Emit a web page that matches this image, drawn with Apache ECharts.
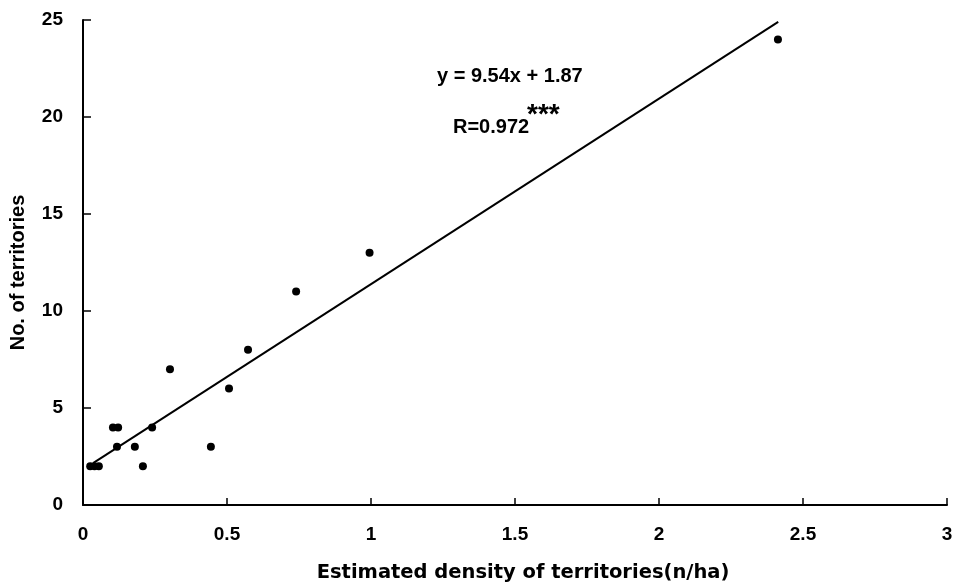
<!DOCTYPE html>
<html>
<head>
<meta charset="utf-8">
<script src="https://cdn.jsdelivr.net/npm/echarts@6/dist/echarts.min.js"></script>
<style>
  html, body { margin: 0; padding: 0; background: #fff; }
  #chart { width: 960px; height: 585px; }
</style>
</head>
<body>
<div id="chart"></div>
<script>
// 观测点：估计密度 (n/ha) 与领地数
var densityX = [0.025, 0.04, 0.055, 0.104, 0.122, 0.118, 0.18, 0.208, 0.24, 0.302, 0.444, 0.507, 0.573, 0.74, 0.995, 2.413];
var territoriesY = [2, 2, 2, 4, 4, 3, 3, 2, 4, 7, 3, 6, 8, 11, 13, 24];

// 回归线两端
var fitX = [0.035, 2.414];
var fitY = [2.16, 24.9];

// 刻度
var xTicks = [0, 0.5, 1, 1.5, 2, 2.5, 3];
var yTicks = [0, 5, 10, 15, 20, 25];

var fontMain = '"Liberation Sans", Arial, sans-serif';
var fontWide = '"DejaVu Sans", sans-serif';

var points = densityX.map(function (x, i) { return [x, territoriesY[i]]; });
var fitLine = fitX.map(function (x, i) { return [x, fitY[i]]; });

var option = {
    backgroundColor: '#fff',
    animation: false,
    grid: { left: 83, right: 13, top: 20, bottom: 80, containLabel: false, outerBoundsMode: 'none' },
    xAxis: {
        type: 'value',
        min: xTicks[0],
        max: xTicks[xTicks.length - 1],
        interval: 0.5,
        name: 'Estimated density of territories(n/ha)',
        nameLocation: 'middle',
        nameGap: 58,
        nameTextStyle: { fontFamily: fontWide, fontSize: 19.5, fontWeight: 'bold', color: '#000', padding: [0, 0, 0, 16] },
        axisLine: { show: true, lineStyle: { color: '#000', width: 2 } },
        axisTick: { show: true, inside: true, length: 7, lineStyle: { color: '#000', width: 1.5 } },
        axisLabel: {
            color: '#000', fontFamily: fontMain, fontSize: 19, fontWeight: 'bold', margin: 20,
            formatter: function (v) { return String(v); }
        },
        splitLine: { show: false }
    },
    yAxis: {
        type: 'value',
        min: yTicks[0],
        max: yTicks[yTicks.length - 1],
        interval: 5,
        name: 'No. of territories',
        nameLocation: 'middle',
        nameGap: 55,
        nameTextStyle: { fontFamily: fontMain, fontSize: 20, fontWeight: 'bold', color: '#000', padding: [0, 20, 0, 0] },
        axisLine: { show: true, lineStyle: { color: '#000', width: 2 } },
        axisTick: { show: true, inside: true, length: 8, lineStyle: { color: '#000', width: 1.5 } },
        axisLabel: { color: '#000', fontFamily: fontMain, fontSize: 19, fontWeight: 'bold', margin: 20 },
        splitLine: { show: false }
    },
    series: [
        {
            type: 'line',
            data: fitLine,
            showSymbol: false,
            symbol: 'none',
            lineStyle: { color: '#000', width: 2 },
            z: 2
        },
        {
            type: 'scatter',
            data: points,
            symbol: 'circle',
            symbolSize: 8,
            itemStyle: { color: '#000', opacity: 1 },
            z: 3
        }
    ],
    graphic: [
        {
            type: 'text', left: 437, top: 66,
            style: { text: 'y = 9.54x + 1.87', fontFamily: fontMain, fontSize: 20, fontWeight: 'bold', fill: '#000' }
        },
        {
            type: 'text', left: 453, top: 117,
            style: { text: 'R=0.972', fontFamily: fontMain, fontSize: 20, fontWeight: 'bold', fill: '#000' }
        },
        {
            type: 'text', left: 527, top: 101,
            style: { text: '***', fontFamily: fontMain, fontSize: 28, fontWeight: 'bold', fill: '#000' }
        }
    ]
};

var myechart = echarts.init(document.getElementById('chart'));
myechart.setOption(option);
</script>
</body>
</html>
